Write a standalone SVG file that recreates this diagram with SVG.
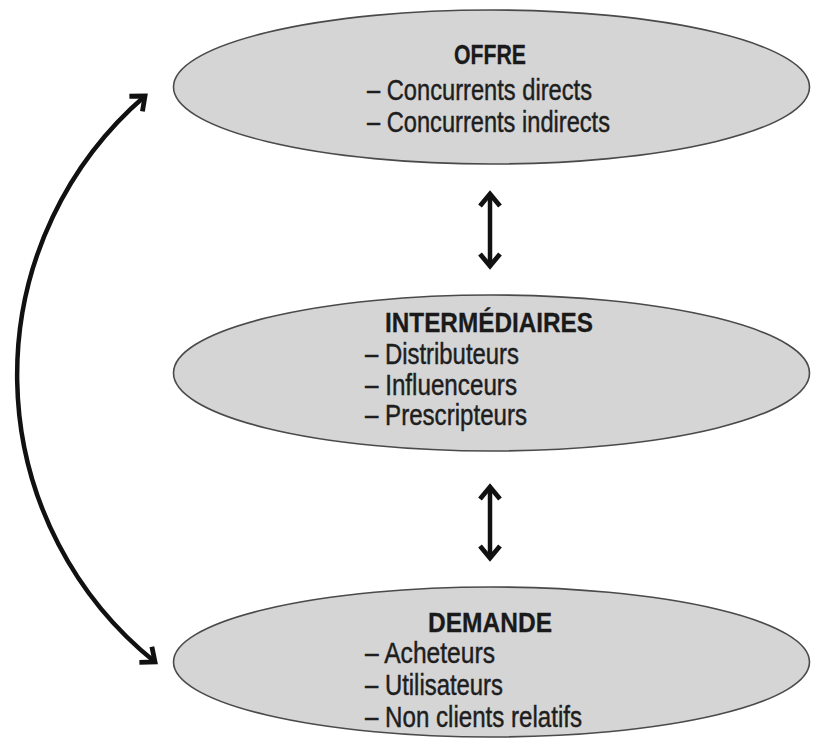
<svg xmlns="http://www.w3.org/2000/svg" width="814" height="740" viewBox="0 0 814 740">
  <style>
    .bubble { fill: #d5d5d5; stroke: #4a4a4a; stroke-width: 1.6; }
    .title { font-family: "Liberation Sans Narrow", "Liberation Sans", Arial, sans-serif; font-weight: bold; font-size: 28px; fill: #1a1a1a; stroke: #1a1a1a; stroke-width: 0.3; }
    .item { font-family: "Liberation Sans Narrow", "Liberation Sans", Arial, sans-serif; font-size: 29px; fill: #1e1e1e; stroke: #1e1e1e; stroke-width: 0.45; }
    .link { fill: none; stroke: #111; stroke-width: 4.5; }
  </style>
  <defs>
    <marker id="head" markerUnits="userSpaceOnUse" markerWidth="40" markerHeight="40" refX="0" refY="0" orient="auto-start-reverse" overflow="visible">
      <path d="M-12,-10 L0,0 L-12,10" fill="none" stroke="#111" stroke-width="4.8"/>
    </marker>
  </defs>
  <rect width="814" height="740" fill="#ffffff"/>

  <g id="offre">
    <ellipse class="bubble" cx="491.5" cy="87" rx="318" ry="77"/>
    <text class="title" x="454" y="64" textLength="72" lengthAdjust="spacingAndGlyphs">OFFRE</text>
    <text class="item" x="367" y="100" textLength="225" lengthAdjust="spacingAndGlyphs">– Concurrents directs</text>
    <text class="item" x="367" y="132" textLength="243" lengthAdjust="spacingAndGlyphs">– Concurrents indirects</text>
  </g>

  <g id="intermediaires">
    <ellipse class="bubble" cx="491.5" cy="373" rx="318" ry="78"/>
    <text class="title" x="385" y="332" textLength="208" lengthAdjust="spacingAndGlyphs">INTERMÉDIAIRES</text>
    <text class="item" x="365" y="364" textLength="154" lengthAdjust="spacingAndGlyphs">– Distributeurs</text>
    <text class="item" x="365" y="395" textLength="152" lengthAdjust="spacingAndGlyphs">– Influenceurs</text>
    <text class="item" x="365" y="425" textLength="162" lengthAdjust="spacingAndGlyphs">– Prescripteurs</text>
  </g>

  <g id="demande">
    <ellipse class="bubble" cx="491.5" cy="662" rx="318" ry="75"/>
    <text class="title" x="428" y="632" textLength="124" lengthAdjust="spacingAndGlyphs">DEMANDE</text>
    <text class="item" x="365" y="663" textLength="130" lengthAdjust="spacingAndGlyphs">– Acheteurs</text>
    <text class="item" x="365" y="695" textLength="138" lengthAdjust="spacingAndGlyphs">– Utilisateurs</text>
    <text class="item" x="365" y="727" textLength="217" lengthAdjust="spacingAndGlyphs">– Non clients relatifs</text>
  </g>

  <g id="connectors">
    <line class="link" x1="490" y1="194" x2="490" y2="266" marker-start="url(#head)" marker-end="url(#head)"/>
    <line class="link" x1="490" y1="487" x2="490" y2="558" marker-start="url(#head)" marker-end="url(#head)"/>
    <path class="link" d="M145,96 A368,368 0 0 0 155,662" marker-start="url(#head)" marker-end="url(#head)"/>
  </g>
</svg>
